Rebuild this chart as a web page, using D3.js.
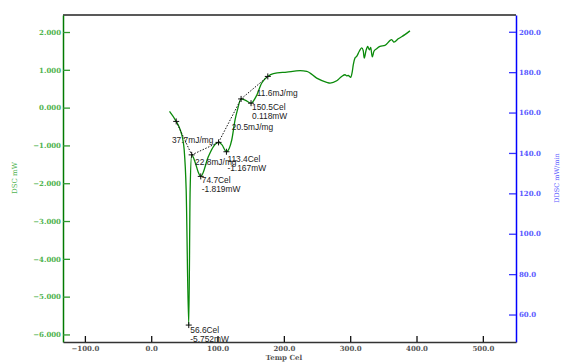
<!DOCTYPE html>
<html>
<head>
<meta charset="utf-8">
<script src="https://cdn.jsdelivr.net/npm/d3@7"></script>
<style>
  html, body { margin: 0; padding: 0; background: #fff; }
  svg { display: block; }
  .note { font-family: "Liberation Sans", Arial, sans-serif; font-size: 8.4px; fill: #222; }
  .tick text { font-family: "DejaVu Serif", serif; font-size: 7px; font-weight: bold; }
</style>
</head>
<body>
<svg id="chart" width="561" height="363"></svg>
<script>
// DSC trace: temperature (Cel) and heat flow (mW)
const tempC = [27.6, 37.7, 43.7, 47.7, 49.7, 52.7, 56.6, 58.7, 61.0, 66.3, 70.8, 74.7,
  86.3, 93.8, 101.5, 106.5, 113.4, 121.5, 126.5, 130.0, 135.5, 141.6, 150.5, 158.0,
  166.7, 175.8, 184.2, 204.4, 224.4, 234.5, 249.5, 264.6, 269.6, 279.7, 287.2, 292.2,
  294.7, 297.1, 300.8, 303.2, 304.7, 307.2, 309.8, 313.7, 317.3, 319.7, 321.2, 323.8,
  326.4, 328.8, 330.9, 333.3, 335.8, 339.9, 344.9, 352.4, 362.5, 366.0, 372.4, 382.5, 390.1];
const dscMW = [-0.10, -0.365, -0.585, -0.85, -1.11, -2.17, -5.752, -2.17, -1.25, -1.45, -1.70, -1.819,
  -1.29, -1.03, -0.92, -0.98, -1.167, -0.85, -0.32, -0.06, 0.23, 0.20, 0.118, 0.29,
  0.65, 0.825, 0.90, 0.94, 0.976, 0.96, 0.78, 0.67, 0.65, 0.71, 0.825, 0.87,
  0.84, 0.85, 0.80, 0.96, 1.135, 1.31, 1.355, 1.49, 1.58, 1.505, 1.31, 1.505,
  1.62, 1.53, 1.59, 1.34, 1.49, 1.56, 1.62, 1.645, 1.80, 1.735, 1.82, 1.93, 2.03];

// Peak picks with their readouts
const peakT = [56.6, 74.7, 113.4, 150.5];
const peakD = [-5.752, -1.819, -1.167, 0.118];
const peakDx = [1.5, 1, 1, 1];
const peakDy = [4.7, 3.5, 7.2, 4.2];
const lineGap = 9;

// Integration limits (baseline segments) and enthalpies
const limitT = [37.7, 61.0, 101.5, 135.5, 175.8];
const limitD = [-0.365, -1.25, -0.92, 0.23, 0.825];
const areaText = ["37.7mJ/mg", "22.8mJ/mg", "20.5mJ/mg", "11.6mJ/mg"];
const areaDx = [-12, -10, 2, 2.3];
const areaDy = [2.3, 13, 6, 5.3];

// Axis ticks
const xTicks = [-100, 0, 100, 200, 300, 400, 500];
const yLeftTicks = [-6, -5, -4, -3, -2, -1, 0, 1, 2];
const yRightTicks = [60, 80, 100, 120, 140, 160, 180, 200];

const L = 63, R = 516, T = 15, B = 342;
const svg = d3.select("#chart");

const x = d3.scaleLinear().domain([-133, 550]).range([L, R]);
const yL = d3.scaleLinear().domain([-6.2, 2.45]).range([B, T]);
const yR = d3.scaleLinear().domain([46.4, 208.3]).range([B, T]);

// Frame: top edge
svg.append("line").attr("x1", L).attr("x2", R).attr("y1", T).attr("y2", T)
  .attr("stroke", "#222").attr("stroke-width", 1.3);

// Left axis (DSC)
const gL = svg.append("g").attr("transform", `translate(${L},0)`)
  .call(d3.axisLeft(yL).tickValues(yLeftTicks).tickFormat(d3.format(".3f"))
    .tickSize(-7).tickSizeOuter(0).tickPadding(2));
gL.select(".domain").attr("stroke", "#007a00").attr("stroke-width", 1.5);
gL.selectAll(".tick line").attr("stroke", "#2e9a2e").attr("stroke-width", 1.3);
gL.selectAll(".tick text").attr("fill", "#4fb34f");

// Right axis (DDSC)
const gR = svg.append("g").attr("transform", `translate(${R},0)`)
  .call(d3.axisRight(yR).tickValues(yRightTicks).tickFormat(d3.format(".1f"))
    .tickSize(-7).tickSizeOuter(0).tickPadding(3));
gR.select(".domain").attr("stroke", "#0000ff").attr("stroke-width", 1.5);
gR.selectAll(".tick line").attr("stroke", "#3333ff").attr("stroke-width", 1.3);
gR.selectAll(".tick text").attr("fill", "#5a5aff");

// Bottom axis (temperature)
const gB = svg.append("g").attr("transform", `translate(0,${B})`)
  .call(d3.axisBottom(x).tickValues(xTicks).tickFormat(d3.format(".1f"))
    .tickSize(-6).tickSizeOuter(0).tickPadding(4.5));
gB.select(".domain").attr("stroke", "#333").attr("stroke-width", 1.6);
gB.selectAll(".tick line").attr("stroke", "#111").attr("stroke-width", 1.3);
gB.selectAll(".tick text").attr("fill", "#555");

// Axis titles
const titleFont = "'DejaVu Serif', serif";
svg.append("text").attr("x", 284).attr("y", 360).attr("text-anchor", "middle")
  .attr("font-family", titleFont).attr("font-size", 7).attr("font-weight", "bold")
  .attr("fill", "#555").text("Temp Cel");
svg.append("text").attr("transform", "translate(17,178) rotate(-90)").attr("text-anchor", "middle")
  .attr("font-family", titleFont).attr("font-size", 7).attr("fill", "#4fb34f").text("DSC mW");
svg.append("text").attr("transform", "translate(559,178) rotate(-90)").attr("text-anchor", "middle")
  .attr("font-family", titleFont).attr("font-size", 6.5).attr("fill", "#5a5aff").text("DDSC mW/min");

// DSC curve
const pts = tempC.map((t, i) => [t, dscMW[i]]);
svg.append("path").datum(pts)
  .attr("fill", "none").attr("stroke", "#0a8a0a").attr("stroke-width", 1.3)
  .attr("stroke-linejoin", "round")
  .attr("d", d3.line().x(d => x(d[0])).y(d => yL(d[1])).curve(d3.curveMonotoneX));

// Dotted baselines between integration limits
for (let i = 0; i < limitT.length - 1; i++) {
  svg.append("line")
    .attr("x1", x(limitT[i])).attr("y1", yL(limitD[i]))
    .attr("x2", x(limitT[i + 1])).attr("y2", yL(limitD[i + 1]))
    .attr("stroke", "#111").attr("stroke-width", 1).attr("stroke-dasharray", "1.5,1.5");
}

// Cross markers
function cross(px, py) {
  svg.append("path")
    .attr("d", `M${px - 3},${py}H${px + 3}M${px},${py - 3}V${py + 3}`)
    .attr("stroke", "#111").attr("stroke-width", 1);
}
limitT.forEach((t, i) => cross(x(t), yL(limitD[i])));
peakT.forEach((t, i) => cross(x(t), yL(peakD[i])));

// Enthalpy labels
areaText.forEach((s, i) => {
  const mx = (x(limitT[i]) + x(limitT[i + 1])) / 2;
  const my = (yL(limitD[i]) + yL(limitD[i + 1])) / 2;
  svg.append("text").attr("class", "note")
    .attr("x", mx + areaDx[i]).attr("y", my + areaDy[i]).attr("dy", "0.35em").text(s);
});

// Peak readouts
peakT.forEach((t, i) => {
  const px = x(t), py = yL(peakD[i]);
  svg.append("text").attr("class", "note")
    .attr("x", px + peakDx[i]).attr("y", py + peakDy[i]).attr("dy", "0.35em")
    .text(t.toFixed(1) + "Cel");
  svg.append("text").attr("class", "note")
    .attr("x", px + peakDx[i]).attr("y", py + peakDy[i] + lineGap).attr("dy", "0.35em")
    .text(peakD[i].toFixed(3) + "mW");
});
</script>
</body>
</html>
